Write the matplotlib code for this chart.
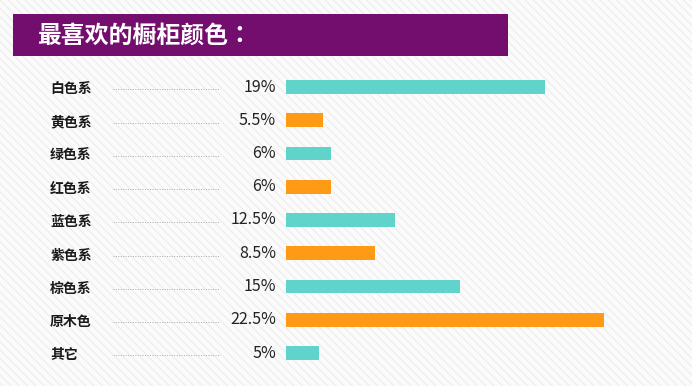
import matplotlib
matplotlib.use("Agg")
import matplotlib.pyplot as plt
from matplotlib.patches import Rectangle
import matplotlib.transforms as mtransforms

plt.rcParams['font.family'] = ['Noto Sans CJK SC', 'DejaVu Sans']
plt.rcParams['hatch.color'] = '#e9e9e9'
plt.rcParams['hatch.linewidth'] = 0.8

title = "最喜欢的橱柜颜色："
categories = ["白色系", "黄色系", "绿色系", "红色系", "蓝色系", "紫色系", "棕色系", "原木色", "其它"]
value_labels = ["19%", "5.5%", "6%", "6%", "12.5%", "8.5%", "15%", "22.5%", "5%"]
# bar lengths as drawn in the picture (bar scale units)
bar_lengths = [18.33, 2.62, 3.18, 3.18, 7.71, 6.30, 12.31, 22.5, 2.33]
bar_colors = ["#60d4ca", "#ff9a16", "#60d4ca", "#ff9a16", "#60d4ca",
              "#ff9a16", "#60d4ca", "#ff9a16", "#60d4ca"]

W, H = 692, 386
fig = plt.figure(figsize=(W / 100, H / 100), dpi=100)

# background with diagonal stripes
bg = fig.add_axes([0, 0, 1, 1])
bg.set_xlim(0, W)
bg.set_ylim(H, 0)
bg.axis('off')
bg.add_patch(Rectangle((0, 0), W, H, facecolor='#fbfbfb', edgecolor='none', zorder=0))
bg.add_patch(Rectangle((0, 0), W, H, facecolor='none', hatch='\\\\\\\\', edgecolor='#ececec',
                       linewidth=0, zorder=0.5))
# title banner
bg.add_patch(Rectangle((13, 14), 495, 42, facecolor='#730e6e', edgecolor='none', zorder=1))
bg.text(37, 36, title, color='white', fontsize=17.2, fontweight='bold',
        family=['Noto Sans CJK TC', 'DejaVu Sans'],
        va='center', ha='left', zorder=2)

# bar axes
left_px, right_px = 286, 604
top_px, bot_px = 87 - 33.25 * 0.5, 87 + 33.25 * 8.5
ax = fig.add_axes([left_px / W, 1 - bot_px / H, (right_px - left_px) / W, (bot_px - top_px) / H])
ax.set_xlim(0, 22.5)
ax.set_ylim(len(categories) - 0.5, -0.5)
ax.axis('off')
ypos = list(range(len(categories)))
ax.barh(ypos, bar_lengths, height=0.42, color=bar_colors, zorder=3)

tr = mtransforms.blended_transform_factory(fig.transFigure, ax.transData)
for i, (cat, lab) in enumerate(zip(categories, value_labels)):
    ax.text(50 / W, i + 0.07, cat, transform=tr, ha='left', va='center',
            fontsize=10, fontweight='bold', color='#1a1a1a', clip_on=False)
    ax.plot([113 / W, 220 / W], [i + 0.07, i + 0.07], transform=tr, color='#aaaaaa',
            linestyle=(0, (1, 1.5)), linewidth=0.7, clip_on=False)
    ax.text(276 / W, i, lab, transform=tr, ha='right', va='center',
            fontsize=11.5, color='#222222', clip_on=False)

fig.savefig("out.png", dpi=100)
